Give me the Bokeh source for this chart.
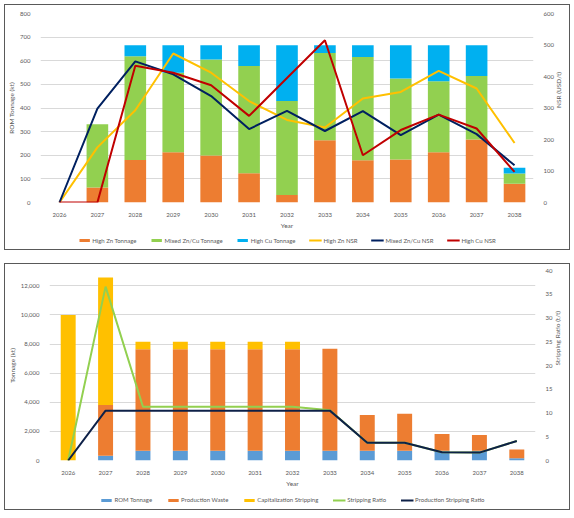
import math
from bokeh.plotting import figure
from bokeh.models import (Range1d, LinearAxis, FixedTicker, NumeralTickFormatter,
                          Legend, LegendItem, ColumnDataSource)
from bokeh.layouts import column
from bokeh.embed import file_html
from bokeh.resources import INLINE

# ---------------- data ----------------
years = ["2026", "2027", "2028", "2029", "2030", "2031", "2032",
         "2033", "2034", "2035", "2036", "2037", "2038"]

# Top chart: ROM tonnage (kt) by ore type
high_zn_t = [0, 63, 180, 213, 199, 124, 32, 264, 179, 182, 213, 267, 79]
mixed_t = [0, 268, 439, 336, 406, 454, 398, 369, 437, 343, 300, 268, 44]
high_cu_t = [0, 0, 47, 117, 61, 88, 236, 33, 50, 141, 153, 131, 24]
# NSR (USD/t)
high_zn_nsr = [0, 175, 293, 473, 412, 322, 262, 238, 330, 351, 418, 362, 189]
mixed_nsr = [0, 298, 448, 407, 338, 233, 291, 227, 290, 214, 279, 217, 118]
high_cu_nsr = [0, 0, 434, 412, 372, 275, 395, 515, 150, 230, 279, 235, 97]

# Bottom chart: tonnage (kt)
rom_t = [0, 331, 666, 666, 666, 666, 666, 666, 666, 666, 666, 666, 147]
prod_waste = [0, 3480, 6975, 6975, 6975, 6975, 6975, 7017, 2455, 2546, 1147, 1078, 610]
cap_strip = [10000, 8765, 510, 510, 510, 510, 510, 0, 0, 0, 0, 0, 0]
# Stripping ratios (t/t)
strip_ratio = [0, 36.6, 11.3, 11.3, 11.3, 11.3, 11.3, 10.6, 3.72, 3.75, 1.75, 1.66, 4.1]
prod_strip_ratio = [0, 10.5, 10.5, 10.5, 10.5, 10.5, 10.5, 10.5, 3.72, 3.75, 1.75, 1.66, 4.1]

top_left_ticks = [0, 100, 200, 300, 400, 500, 600, 700, 800]
top_right_ticks = [0, 100, 200, 300, 400, 500, 600]
bot_left_ticks = [0, 2000, 4000, 6000, 8000, 10000, 12000]
bot_right_ticks = [0, 5, 10, 15, 20, 25, 30, 35, 40]

top_series = ["High Zn Tonnage", "Mixed Zn/Cu Tonnage", "High Cu Tonnage",
              "High Zn NSR", "Mixed Zn/Cu NSR", "High Cu NSR"]
bot_series = ["ROM Tonnage", "Production Waste", "Capitalization Stripping",
              "Stripping Ratio", "Production Stripping Ratio"]
top_colors = ["#ED7D31", "#92D050", "#00B0F0", "#FFC000", "#002060", "#C00000"]
bot_colors = ["#5B9BD5", "#ED7D31", "#FFC000", "#92D050", "#0E2148"]

# ---------------- style ----------------
FONT = "Lato"
TXT = "#595959"
GRID = "#d9d9d9"
EDGE = "1.5px solid #595959"
BOX_TOP = {"border-left": EDGE, "border-right": EDGE, "border-top": EDGE}
BOX_BOT = {"border-left": EDGE, "border-right": EDGE, "border-bottom": EDGE}
W = 566


def style_axis(ax, label):
    ax.axis_label = label
    ax.axis_line_color = None
    ax.major_tick_line_color = None
    ax.minor_tick_line_color = None
    ax.major_label_text_color = TXT
    ax.major_label_text_font = FONT
    ax.major_label_text_font_size = "6px"
    ax.major_label_standoff = 4
    ax.axis_label_standoff = 2
    ax.axis_label_text_color = TXT
    ax.axis_label_text_font = FONT
    ax.axis_label_text_font_size = "6.5px"
    ax.axis_label_text_font_style = "normal"


def legend_strip(labels, colors, n_bars, height, spacing):
    # a strip below the chart that holds only the legend (swatch renderers sit
    # outside the visible range so nothing but the legend shows)
    lf = figure(width=W, height=height, x_range=Range1d(0, 1), y_range=Range1d(0, 1),
                x_axis_type=None, y_axis_type=None, output_backend="svg",
                toolbar_location=None, min_border=0, styles=BOX_BOT)
    lf.outline_line_color = None
    lf.grid.grid_line_color = None
    items = []
    for i, (lab, col) in enumerate(zip(labels, colors)):
        if i < n_bars:
            r = lf.vbar(x=[-5], top=[-5], bottom=[-6], width=0.5,
                        fill_color=col, line_color=None)
        else:
            r = lf.line(x=[-6, -5], y=[-5, -5], line_color=col, line_width=2)
        items.append(LegendItem(label=lab, renderers=[r]))
    lf.add_layout(Legend(items=items, orientation="horizontal", location="center",
                         label_text_font=FONT, label_text_font_size="6px",
                         label_text_color=TXT, glyph_width=13, glyph_height=4,
                         label_height=8, label_standoff=2, spacing=spacing, padding=0,
                         margin=0, border_line_color=None, background_fill_alpha=0))
    return lf


# ---------------- top chart ----------------
p1 = figure(x_range=years, y_range=Range1d(0, 800), width=W, height=226,
            output_backend="svg", toolbar_location=None,
            min_border_left=35, min_border_right=38, min_border_top=8,
            min_border_bottom=29, styles=BOX_TOP)
p1.outline_line_color = None
p1.extra_y_ranges = {"nsr": Range1d(0, 600)}

src1 = ColumnDataSource(dict(year=years, hz=high_zn_t, mx=mixed_t, hc=high_cu_t,
                             hzn=high_zn_nsr, mxn=mixed_nsr, hcn=high_cu_nsr))
p1.vbar_stack(["hz", "mx", "hc"], x="year", width=0.57,
              color=top_colors[:3], line_color=None, source=src1)
p1.line("year", "hzn", source=src1, y_range_name="nsr", line_color=top_colors[3], line_width=2)
p1.line("year", "mxn", source=src1, y_range_name="nsr", line_color=top_colors[4], line_width=2)
p1.line("year", "hcn", source=src1, y_range_name="nsr", line_color=top_colors[5], line_width=2)

tk1 = FixedTicker(ticks=top_left_ticks)
p1.yaxis[0].ticker = tk1
p1.ygrid.ticker = tk1
p1.ygrid.grid_line_color = GRID
p1.xgrid.grid_line_color = None
style_axis(p1.yaxis[0], "ROM Tonnage (kt)")
style_axis(p1.xaxis[0], "Year")
ax_r1 = LinearAxis(y_range_name="nsr", ticker=FixedTicker(ticks=top_right_ticks))
style_axis(ax_r1, "NSR (USD/t)")
ax_r1.axis_label_orientation = math.pi / 2
p1.add_layout(ax_r1, "right")

leg1 = legend_strip(top_series, top_colors, 3, 20, 13)

# ---------------- bottom chart ----------------
p2 = figure(x_range=years, y_range=Range1d(0, 13050), width=W, height=226,
            output_backend="svg", toolbar_location=None,
            min_border_left=42, min_border_right=36, min_border_top=6,
            min_border_bottom=30, styles=BOX_TOP)
p2.outline_line_color = None
p2.extra_y_ranges = {"sr": Range1d(0, 40)}

src2 = ColumnDataSource(dict(year=years, rom=rom_t, pw=prod_waste, cs=cap_strip,
                             sr=strip_ratio, psr=prod_strip_ratio))
p2.vbar_stack(["rom", "pw", "cs"], x="year", width=0.4,
              color=bot_colors[:3], line_color=None, source=src2)
p2.line("year", "sr", source=src2, y_range_name="sr", line_color=bot_colors[3], line_width=2)
p2.line("year", "psr", source=src2, y_range_name="sr", line_color=bot_colors[4], line_width=2)

tk2 = FixedTicker(ticks=bot_left_ticks)
p2.yaxis[0].ticker = tk2
p2.yaxis[0].formatter = NumeralTickFormatter(format="0,0")
p2.ygrid.ticker = tk2
p2.ygrid.grid_line_color = GRID
p2.xgrid.grid_line_color = None
style_axis(p2.yaxis[0], "Tonnage (kt)")
style_axis(p2.xaxis[0], "Year")
ax_r2 = LinearAxis(y_range_name="sr", ticker=FixedTicker(ticks=bot_right_ticks))
style_axis(ax_r2, "Stripping Ratio (t/t)")
ax_r2.axis_label_orientation = math.pi / 2
p2.add_layout(ax_r2, "right")

leg2 = legend_strip(bot_series, bot_colors, 3, 21, 14)

layout = column(column(p1, leg1, spacing=0), column(p2, leg2, spacing=0),
                spacing=13, margin=(4, 4, 4, 4))
open("out.html", "w").write(file_html(layout, INLINE))
